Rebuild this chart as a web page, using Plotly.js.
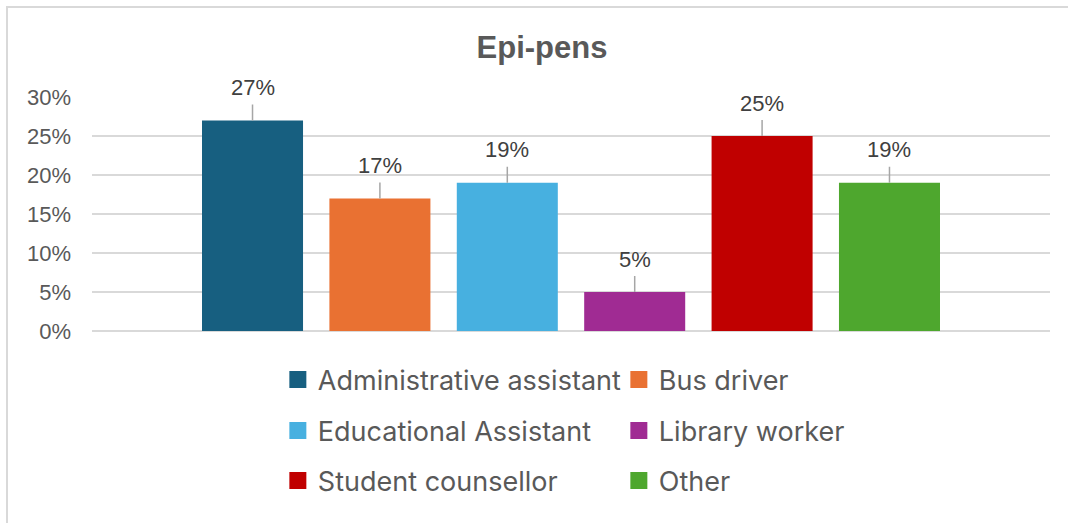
<!DOCTYPE html>
<html>
<head>
<meta charset="utf-8">
<script src="https://cdn.plot.ly/plotly-3.0.1.min.js"></script>
<style>
  html, body { margin: 0; padding: 0; background: #ffffff; }
  #chart { position: absolute; left: 0; top: 0; width: 1068px; height: 523px; }
  #frame { position: absolute; left: 6px; top: 6px; width: 1070px; height: 530px;
           border-top: 2px solid #d9d9d9; border-left: 2px solid #d9d9d9; pointer-events: none; }
</style>
</head>
<body>
<div id="chart"></div>
<div id="frame"></div>
<script>
// ---- data ----
const chartTitle = 'Epi-pens';
const categories = ['Administrative assistant', 'Bus driver', 'Educational Assistant',
                    'Library worker', 'Student counsellor', 'Other'];
const values = [0.27, 0.17, 0.19, 0.05, 0.25, 0.19];
const barColors = ['#175F80', '#E97132', '#47B0E0', '#A02B93', '#C00000', '#4EA72E'];
const yTickValues = [0, 0.05, 0.10, 0.15, 0.20, 0.25, 0.30];

const legendIds = ['legend', 'legend', 'legend2', 'legend2', 'legend3', 'legend3'];

const traces = [];
// real bars
categories.forEach((c, i) => {
  traces.push({
    type: 'bar',
    name: c,
    x: [c],
    y: [values[i]],
    marker: { color: barColors[i] },
    showlegend: false,
    hoverinfo: 'skip'
  });
});
// legend entries (no visible marks, bigger swatch)
categories.forEach((c, i) => {
  traces.push({
    type: 'bar',
    name: c,
    x: [c],
    y: [null],
    marker: { color: barColors[i], line: { color: barColors[i], width: 5 } },
    showlegend: true,
    legend: legendIds[i],
    hoverinfo: 'skip'
  });
});

const annotations = categories.map((c, i) => ({
  x: c, y: values[i], xref: 'x', yref: 'y',
  text: Math.round(values[i] * 100) + '%',
  showarrow: true, arrowhead: 0, arrowwidth: 1.5, arrowcolor: '#a6a6a6',
  ax: 0, ay: -33, startstandoff: 3,
  font: { family: 'Liberation Sans, Arial, sans-serif', size: 22, color: '#404040' }
}));

const legendFont = { family: 'Inter, sans-serif', size: 27, color: '#595959' };
const legendBase = {
  orientation: 'h', x: 0.194, xanchor: 'left', yanchor: 'middle',
  entrywidth: 296, entrywidthmode: 'pixels',
  bgcolor: 'rgba(0,0,0,0)', borderwidth: 0, font: legendFont, traceorder: 'normal'
};

const layout = {
  width: 1068, height: 523,
  margin: { l: 92, r: 18, t: 97, b: 192, autoexpand: false },
  paper_bgcolor: '#ffffff', plot_bgcolor: '#ffffff',
  barmode: 'overlay', bargap: 0.207,
  title: {
    text: '<b>' + chartTitle + '</b>',
    x: 542 / 1068, xanchor: 'center', xref: 'container',
    y: 1 - 47 / 523, yanchor: 'middle', yref: 'container',
    font: { family: 'Liberation Sans, Arial, sans-serif', size: 31, color: '#595959' }
  },
  xaxis: {
    type: 'category', categoryorder: 'array', categoryarray: categories,
    range: [-1.26, 6.26], showticklabels: false, showgrid: false,
    zeroline: false, showline: false, ticks: '', fixedrange: true
  },
  yaxis: {
    range: [0, 0.30], tickvals: yTickValues, tickformat: '.0%',
    showgrid: true, gridcolor: '#d9d9d9', gridwidth: 2,
    zeroline: true, zerolinecolor: '#d9d9d9', zerolinewidth: 2,
    showline: false, ticks: '', ticklabelstandoff: 20,
    tickfont: { family: 'Liberation Sans, Arial, sans-serif', size: 22, color: '#595959' },
    fixedrange: true
  },
  legend: Object.assign({}, legendBase, { y: (331 - 380) / 234 }),
  legend2: Object.assign({}, legendBase, { y: (331 - 431) / 234 }),
  legend3: Object.assign({}, legendBase, { y: (331 - 481) / 234 }),
  annotations: annotations,
  showlegend: true
};

Plotly.newPlot('chart', traces, layout, { staticPlot: true, displayModeBar: false });
</script>
</body>
</html>
